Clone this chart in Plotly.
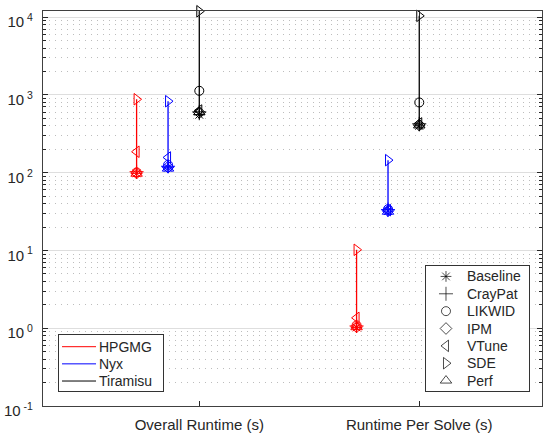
import plotly.graph_objects as go

# ---------------- data ----------------
tools = ["Baseline", "CrayPat", "LIKWID", "IPM", "VTune", "SDE", "Perf"]
apps = ["HPGMG", "Nyx", "Tiramisu"]
metrics = ["Overall Runtime (s)", "Runtime Per Solve (s)"]

hpgmg_overall = [98, 103, 101, 99, 186, 880, 97]
nyx_overall = [116, 121, 126, 118, 157, 830, 113]
tiramisu_overall = [555, 605, 1130, 595, 630, 11900, 600]

hpgmg_solve = [1.02, 1.07, 1.09, 1.04, 1.36, 10.2, 1.03]
nyx_solve = [32, 33.5, 34, 32.5, 33, 145, 31.5]
tiramisu_solve = [400, 425, 800, 410, 430, 10400, 405]

y_tick_vals = [0.1, 1, 10, 100, 1000, 10000]
y_tick_text = ["10<sup>\u00a0-1</sup>", "10<sup>\u00a00</sup>", "10<sup>\u00a01</sup>",
               "10<sup>\u00a02</sup>", "10<sup>\u00a03</sup>", "10<sup>\u00a04</sup>"]

# ---------------- styles ----------------
data = {
    "HPGMG": [hpgmg_overall, hpgmg_solve],
    "Nyx": [nyx_overall, nyx_solve],
    "Tiramisu": [tiramisu_overall, tiramisu_solve],
}
app_color = {"HPGMG": "#ff0000", "Nyx": "#0000ff", "Tiramisu": "#000000"}
app_offset = {"HPGMG": -0.285, "Nyx": -0.142, "Tiramisu": 0.0}
tool_symbol = {
    "Baseline": "asterisk-open",
    "CrayPat": "cross-thin-open",
    "LIKWID": "circle-open",
    "IPM": "diamond-open",
    "VTune": "triangle-left-open",
    "SDE": "triangle-right-open",
    "Perf": "triangle-up-open",
}
tool_size = {"Baseline": 9, "CrayPat": 10, "LIKWID": 9, "IPM": 9,
             "VTune": 10, "SDE": 10, "Perf": 10}

FONT = "Liberation Sans, Arial, Helvetica, sans-serif"
TXT = "#262626"

fig = go.Figure()

# vertical range lines
for mi, metric in enumerate(metrics):
    for app in apps:
        vals = data[app][mi]
        xc = mi + 1 + app_offset[app]
        fig.add_trace(go.Scatter(
            x=[xc, xc], y=[min(vals), max(vals)], mode="lines",
            line=dict(color=app_color[app], width=1.3),
            showlegend=False, hoverinfo="skip", cliponaxis=False))

# markers per tool
for ti, tool in enumerate(tools):
    xs, ys, cs = [], [], []
    for mi, metric in enumerate(metrics):
        for app in apps:
            xs.append(mi + 1 + app_offset[app])
            ys.append(data[app][mi][ti])
            cs.append(app_color[app])
    fig.add_trace(go.Scatter(
        x=xs, y=ys, mode="markers", name=tool,
        marker=dict(symbol=tool_symbol[tool], size=tool_size[tool], color=cs,
                    line=dict(color=cs, width=1)),
        showlegend=False, cliponaxis=False))

# ---------------- custom legend: markers (x2/y2) ----------------
fig.add_trace(go.Scatter(
    x=[20] * len(tools), y=list(range(len(tools))), mode="markers",
    marker=dict(symbol=[tool_symbol[t] for t in tools],
                size=[tool_size[t] for t in tools], color="#000000",
                line=dict(color="#000000", width=1)),
    xaxis="x2", yaxis="y2", showlegend=False, hoverinfo="skip"))

annotations = []
for i, t in enumerate(tools):
    annotations.append(dict(x=39, y=i, xref="x2", yref="y2", text=t,
                            showarrow=False, xanchor="left", yanchor="middle",
                            font=dict(family=FONT, size=14, color=TXT)))

# ---------------- custom legend: lines (x3/y3) ----------------
for i, app in enumerate(apps):
    fig.add_trace(go.Scatter(
        x=[3, 37], y=[i, i], mode="lines",
        line=dict(color=app_color[app], width=1),
        xaxis="x3", yaxis="y3", showlegend=False, hoverinfo="skip"))
    annotations.append(dict(x=37.5, y=i, xref="x3", yref="y3", text=app,
                            showarrow=False, xanchor="left", yanchor="middle",
                            font=dict(family=FONT, size=14, color=TXT)))

minor_vals = [k * 10 ** e for e in range(-1, 4) for k in range(2, 10)]

legend_axis = dict(showgrid=False, zeroline=False, showticklabels=False,
                   ticks="", showline=True, mirror=True, linecolor="#333333",
                   linewidth=1, fixedrange=True)

fig.update_layout(
    width=543, height=433,
    margin=dict(l=43, r=1, t=11, b=27),
    paper_bgcolor="white", plot_bgcolor="white",
    font=dict(family=FONT, size=15, color=TXT),
    showlegend=False,
    xaxis=dict(
        range=[0.2895, 2.558], tickmode="array", tickvals=[1, 2],
        ticktext=metrics, ticks="inside", ticklen=5, tickcolor="#262626",
        showgrid=False, zeroline=False, showline=True, mirror="ticks",
        linecolor="#404040", linewidth=1.2, ticklabelstandoff=5,
        tickfont=dict(family=FONT, size=15, color=TXT)),
    yaxis=dict(
        type="log", range=[-1, 4.0792],
        tickmode="array", tickvals=y_tick_vals, ticktext=y_tick_text,
        ticks="inside", ticklen=5, tickcolor="#262626",
        showgrid=True, gridcolor="#dedede", gridwidth=1,
        zeroline=False, showline=True, mirror="ticks",
        linecolor="#404040", linewidth=1.2, ticklabelstandoff=6,
        ticklabelshift=5,
        tickfont=dict(family=FONT, size=15, color=TXT),
        minor=dict(tickmode="array", tickvals=minor_vals, ticks="inside",
                   ticklen=3, tickcolor="#262626", showgrid=True,
                   gridcolor="#bdbdbd", griddash="1px,5px", gridwidth=1)),
    xaxis2=dict(domain=[0.7675, 0.974], range=[0, 103], anchor="y2", **legend_axis),
    yaxis2=dict(domain=[0.038, 0.3544], range=[6.6, -0.6], anchor="x2", **legend_axis),
    xaxis3=dict(domain=[0.0321, 0.2405], range=[0, 104], anchor="y3", **legend_axis),
    yaxis3=dict(domain=[0.038, 0.1797], range=[2.58, -0.68], anchor="x3", **legend_axis),
    annotations=annotations,
)

fig.write_html("out.html")
